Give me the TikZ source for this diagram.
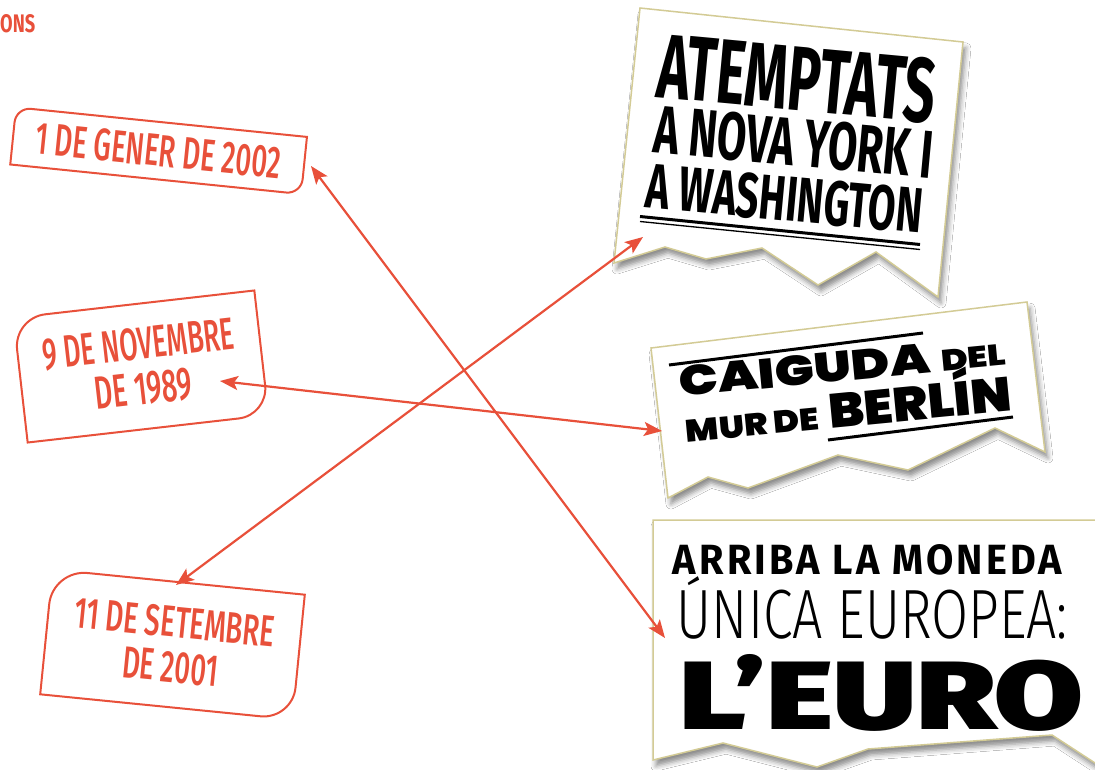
\documentclass[tikz,border=0pt]{standalone}
\usepackage{fontspec}
\usepackage{graphicx}
\usetikzlibrary{arrows.meta,shadows.blur}
\setmainfont{Fira Sans}
\newcommand\mkfont[3]{\IfFontExistsTF{#2}{\newfontfamily#1{#2}}{\newfontfamily#1{#3}}}
\mkfont\fmed{Fira Sans Medium}{Fira Sans}
\mkfont\fblack{Fira Sans Black}{Fira Sans}
\mkfont\flight{Fira Sans Light}{Fira Sans}
\mkfont\fbold{Fira Sans Bold}{Fira Sans}
\mkfont\pblack{Poppins Black}{Poppins}
\definecolor{tomato}{HTML}{E8503A}
\definecolor{khaki}{HTML}{D3CB95}
\newcommand\fit[3]{\resizebox{#1}{#2}{#3}}
\newcommand\fitc[3]{\resizebox{#1}{#2}{\vphantom{N}\smash{#3}}}
\begin{document}
\begin{tikzpicture}[x=1pt,y=-1pt,
  datebox/.style={draw=none, inner sep=0pt, text=tomato, font=\fmed\fontsize{40}{45}\selectfont, align=center},
  dateline/.style={draw=tomato, line width=2pt},
  headbox/.style={draw=khaki, line width=1.5pt, fill=white,
    blur shadow={shadow xshift=3pt, shadow yshift=-6pt, shadow blur radius=5pt, shadow opacity=45}},
  htext/.style={inner sep=0pt, text=black},
  rulethick/.style={draw=black, line width=3pt},
  rulethin/.style={draw=black, line width=1.3pt},
  conn/.style={draw=tomato, line width=2.2pt,
    {Stealth[length=18pt,width=14pt,inset=4pt]}-{Stealth[length=18pt,width=14pt,inset=4pt]}}]
\fill[white] (0,0) rectangle (1095,770);
\useasboundingbox (0,0) rectangle (1095,770);

% cut-off heading
\node[inner sep=0pt, anchor=north west, text=tomato] (ons) at (0,14) {\fit{35pt}{18pt}{\fbold ONS}};

% date boxes
\node[datebox, rotate=-5.8, minimum width=292pt, minimum height=57pt] (d1) at (158.6,150.7)
  {\fit{246pt}{32pt}{1 DE GENER DE 2002}};
\draw[dateline] (d1.west) [rounded corners=15pt] -- (d1.north west) -- (d1.north) [sharp corners]
  -- (d1.north east) -- (d1.east) [rounded corners=15pt] -- (d1.south east) -- (d1.south) [sharp corners]
  -- (d1.south west) -- cycle;

\node[datebox, rotate=6.5, minimum width=242pt, minimum height=125pt] (d2) at (141,366.5)
  {\fit{192pt}{32pt}{9 DE NOVEMBRE}\\\fit{98pt}{32pt}{DE 1989}};
\draw[dateline] (d2.west) [rounded corners=32pt] -- (d2.north west) -- (d2.north) [sharp corners]
  -- (d2.north east) -- (d2.east) [rounded corners=30pt] -- (d2.south east) -- (d2.south) [sharp corners]
  -- (d2.south west) -- cycle;

\node[datebox, rotate=-5.7, minimum width=253pt, minimum height=125pt] (d3) at (172.5,644.5)
  {\fit{201pt}{31pt}{11 DE SETEMBRE}\\\fit{96pt}{31pt}{DE 2001}};
\draw[dateline] (d3.west) [rounded corners=35pt] -- (d3.north west) -- (d3.north) [sharp corners]
  -- (d3.north east) -- (d3.east) [rounded corners=32pt] -- (d3.south east) -- (d3.south) [sharp corners]
  -- (d3.south west) -- cycle;

% headline 1
\path[headbox] (640,8) -- (963,42) -- (938,297) -- (876,252) -- (818,285) -- (762,248)
  -- (706,259) -- (665,247) -- (614,263) -- cycle;
\node[htext, rotate=-5.3, anchor=north west, align=left, font=\fbold\fontsize{40}{55.5}\selectfont] (h1) at (661,32.3)
  {\fit{279pt}{65pt}{ATEMPTATS}\\\hspace*{2pt}\fit{280pt}{48pt}{A NOVA YORK I}\\\fit{277pt}{45pt}{A WASHINGTON}};
\draw[rulethick] (640,216.5) -- (920,244.5);
\draw[rulethin] (640,221.5) -- (920,249.5);

% headline 2
\path[headbox] (651,348) -- (1027,302) -- (1045,452) -- (995,428) -- (908,470) -- (838,455)
  -- (748,488) -- (708,477) -- (668,498) -- cycle;
\draw[rulethick] (669,365) -- (923,333);
\node[htext, rotate=5.5, anchor=north west, align=left, font=\pblack\fontsize{30}{46}\selectfont] (h2) at (677.3,366.6)
  {\fit{252pt}{30pt}{CAIGUDA}\hspace{11pt}\fit{65pt}{21pt}{DEL}\\[0pt]
   \hspace*{2pt}\fit{134pt}{22pt}{MUR DE}\hspace{10pt}\fitc{184pt}{34pt}{BERLÍN}};
\draw[rulethick] (828,440) -- (1013,417);

% headline 3
\path[headbox] (653,520) -- (1115,520) -- (1115,776) -- (1052,735) -- (868,749) -- (817,767)
  -- (723,743) -- (653,760) -- cycle;
\node[htext] (h3a) at (867.5,560) {\fit{389pt}{30pt}{\fbold\addfontfeatures{LetterSpace=8}ARRIBA LA MONEDA}};
\node[htext] (h3b) at (872.5,614) {\fitc{391pt}{48pt}{\flight ÚNICA EUROPEA:}};
\node[htext] (h3c) at (881.5,692.5) {\fit{403pt}{75pt}{\fblack L’EURO}};

% connectors
\coordinate (a1s) at (311,166);
\coordinate (a1e) at (665,638);
\coordinate (a2s) at (176,585);
\coordinate (a2e) at (643,237);
\coordinate (a3s) at (220,381);
\coordinate (a3e) at (662,431);
\draw[conn] (a1s) -- (a1e);
\draw[conn] (a2s) -- (a2e);
\draw[conn] (a3s) -- (a3e);
\end{tikzpicture}
\end{document}
